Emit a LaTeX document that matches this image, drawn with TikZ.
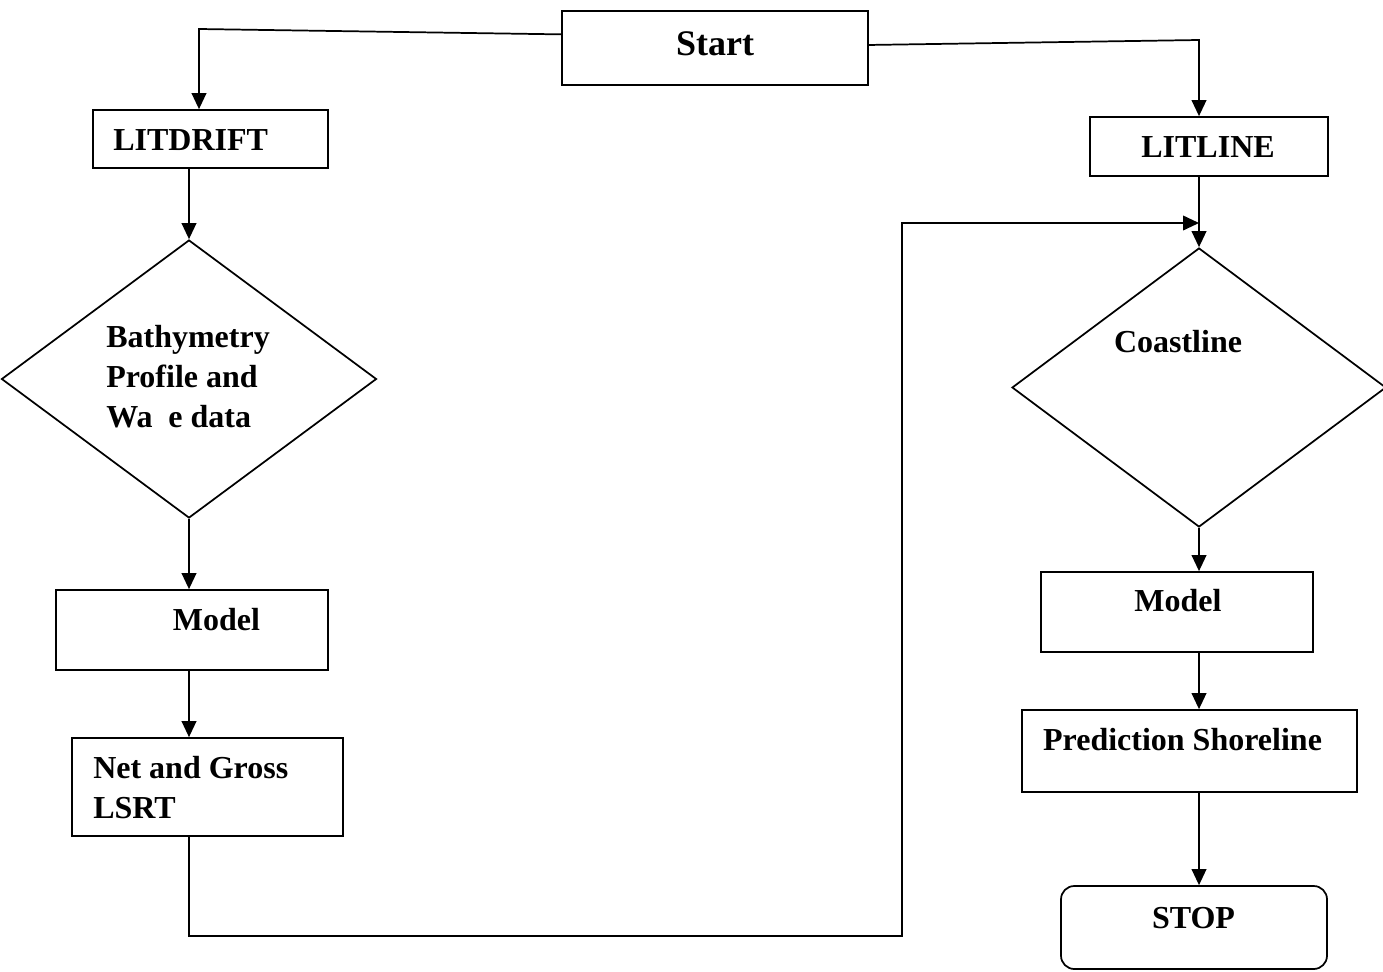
\documentclass[tikz,border=0pt]{standalone}
\usepackage{fontspec}
\setmainfont{Liberation Serif}
\usetikzlibrary{shapes.geometric,arrows.meta,calc}
\tikzset{
  px/.style={x=0.75pt,y=-0.75pt},
  box/.style={draw, line width=1.3pt, inner sep=0pt, rectangle},
  dia/.style={draw, line width=1.3pt, inner sep=0pt, diamond},
  txt/.style={inner sep=0pt, font=\fontsize{24}{30}\selectfont\bfseries},
  arr/.style={line width=1.3pt, -{Triangle[length=12pt,width=11pt]}}
}
\begin{document}
\begin{tikzpicture}[px]
\useasboundingbox (0,0) rectangle (1383,971);
% boxes
\node[box, minimum width=306*0.75pt, minimum height=74*0.75pt] (start) at (715,48) {};
\node[box, minimum width=235*0.75pt, minimum height=58*0.75pt] (litdrift) at (210.5,139) {};
\node[dia, minimum width=375*0.75pt, minimum height=278*0.75pt] (d1) at (189,379) {};
\node[box, minimum width=272*0.75pt, minimum height=80*0.75pt] (model1) at (192,630) {};
\node[box, minimum width=271*0.75pt, minimum height=98*0.75pt] (net) at (207.5,787) {};
\node[box, minimum width=238*0.75pt, minimum height=59*0.75pt] (litline) at (1209,146.5) {};
\node[dia, minimum width=374*0.75pt, minimum height=279*0.75pt] (d2) at (1199,387.5) {};
\node[box, minimum width=272*0.75pt, minimum height=80*0.75pt] (model2) at (1177,612) {};
\node[box, minimum width=335*0.75pt, minimum height=82*0.75pt] (pred) at (1189.5,751) {};
\node[box, rounded corners=10pt, minimum width=266*0.75pt, minimum height=83*0.75pt] (stop) at (1194,927.5) {};
% texts
\node[txt, font=\fontsize{27}{32}\selectfont\bfseries, anchor=base] (tstart) at (715,55) {Start};
\node[txt, anchor=base west] (tlitdrift) at (113,150) {LITDRIFT};
\node[txt, anchor=north west, align=left] (tbathy) at (106,325.5) {Bathymetry\\Profile and\\Wa\hspace{0.5em}e data};
\node[txt, anchor=base] (tmodel1) at (216.5,630) {Model};
\node[txt, anchor=north west, align=left] (tnet) at (93,756.5) {Net and Gross\\LSRT};
\node[txt, anchor=base] (tlitline) at (1208,157) {LITLINE};
\node[txt, anchor=base] (tcoast) at (1178,352) {Coastline};
\node[txt, anchor=base] (tmodel2) at (1178,611) {Model};
\node[txt, anchor=base] (tpred) at (1182.5,750) {Prediction Shoreline};
\node[txt, anchor=base] (tstop) at (1193.5,928) {STOP};
% bend coordinates
\coordinate (c1) at (199,29);
\coordinate (c2) at (1199,40);
\coordinate (c3) at (189,936);
\coordinate (c4) at (902,936);
\coordinate (c5) at (902,223);
% connectors
\draw[arr] ($(start.north west)!0.32!(start.south west)$) -- (c1) -- (c1 |- litdrift.north);
\draw[arr] ($(start.north east)!0.46!(start.south east)$) -- (c2) -- (c2 |- litline.north);
\draw[arr] (d1.north |- litdrift.south) -- (d1.north);
\draw[arr] (d1.south) -- (d1.south |- model1.north);
\draw[arr] (d1.south |- model1.south) -- (d1.south |- net.north);
\draw[arr] (d1.south |- net.south) -- (c3) -- (c4) -- (c5) -- (c5 -| d2.north);
\draw[arr] (litline.south -| d2.north) -- (d2.north);
\draw[arr] (d2.south) -- (d2.south |- model2.north);
\draw[arr] (d2.south |- model2.south) -- (d2.south |- pred.north);
\draw[arr] (d2.south |- pred.south) -- (d2.south |- stop.north);
\end{tikzpicture}
\end{document}
